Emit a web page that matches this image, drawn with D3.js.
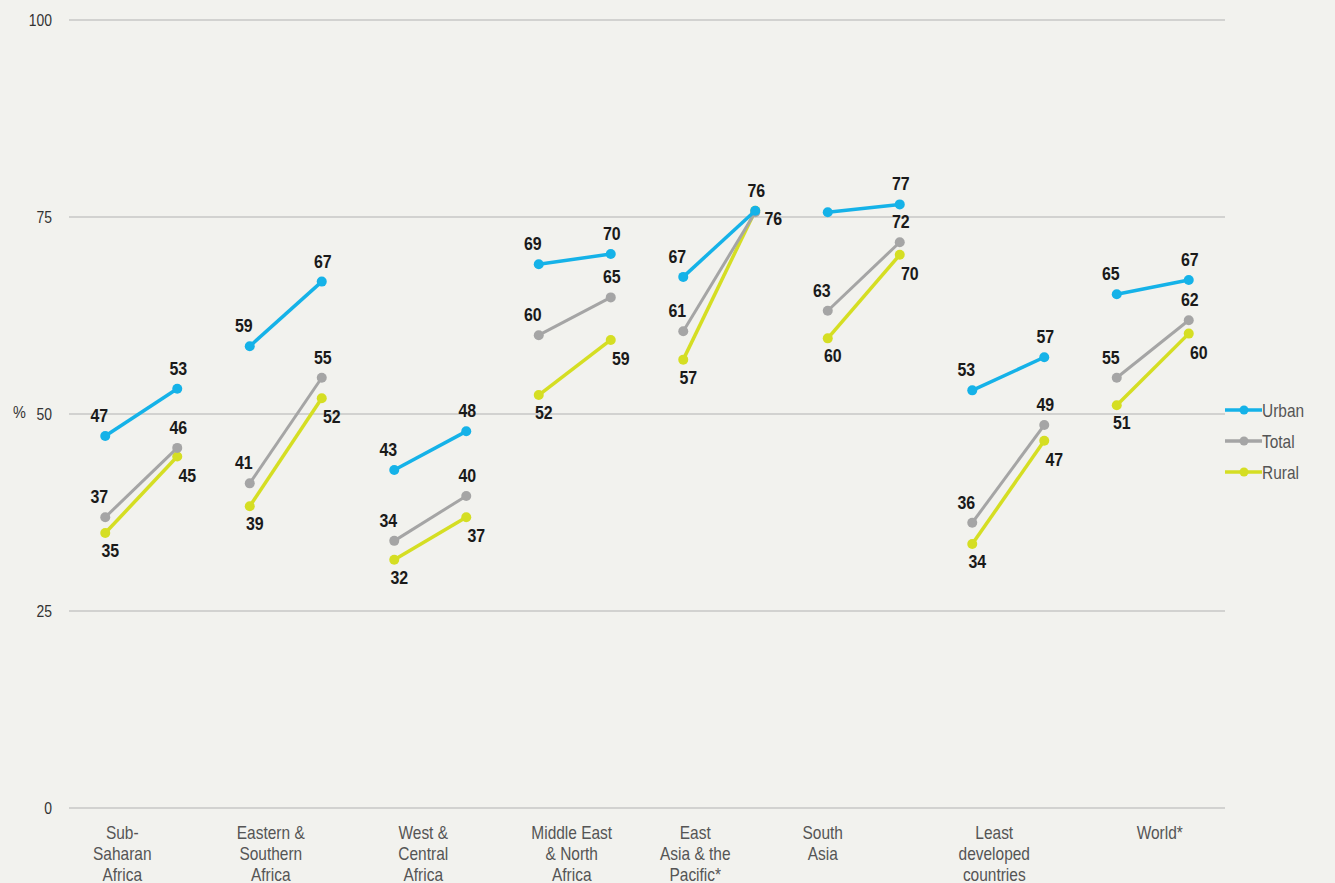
<!DOCTYPE html>
<html><head><meta charset="utf-8">
<script src="https://cdn.jsdelivr.net/npm/d3@7"></script>
<style>
body{margin:0;background:#f2f2ee;}
svg{display:block;}
text{font-family:"Liberation Sans",Arial,sans-serif;}
</style></head><body>
<svg id="c" width="1335" height="883"></svg>
<script>
const categories = [["Sub-","Saharan","Africa"],["Eastern &","Southern","Africa"],["West &","Central","Africa"],["Middle East","& North","Africa"],["East","Asia & the","Pacific*"],["South","Asia"],["Least","developed","countries"],["World*"]];
const urban = [[47.2,53.2],[58.6,66.8],[42.9,47.8],[69.0,70.3],[67.4,75.8],[75.6,76.6],[53.0,57.2],[65.2,67.0]];
const total = [[36.9,45.7],[41.2,54.6],[33.9,39.6],[60.0,64.8],[60.5,75.6],[63.1,71.8],[36.2,48.6],[54.6,61.9]];
const rural = [[34.9,44.6],[38.3,52.0],[31.5,36.9],[52.4,59.4],[56.9,75.8],[59.6,70.2],[33.5,46.6],[51.1,60.2]];
// labels shown (null = hidden)
const urbanLabels = [["47","53"],["59","67"],["43","48"],["69","70"],["67","76"],[null,"77"],["53","57"],["65","67"]];
const totalLabels = [["37","46"],["41","55"],["34","40"],["60","65"],["61",null],["63","72"],["36","49"],["55","62"]];
const ruralLabels = [["35","45"],["39","52"],["32","37"],["52","59"],["57","76"],["60","70"],["34","47"],["51","60"]];
const yTicks = [0,25,50,75,100];
const seriesNames = ["Urban","Total","Rural"];
const colors = ["#15b2e8","#a5a5a5","#d5de23"];
// layout
const catLabelDx = [-19,-15,-7,-3,-24,-41,-14,7];

const svg = d3.select("#c");
const x0 = 69, x1 = 1225;
const band = d3.scaleBand().domain(d3.range(categories.length)).range([x0,x1]);
const y = d3.scaleLinear().domain([0,100]).range([808,20]);
const half = 36;
const px = (i,j) => band(i) + band.bandwidth()/2 + (j===0?-half:half);

function ctext(parent, x, yy, sx){
  return parent.append("text").attr("transform",`translate(${x},${yy}) scale(${sx},1)`);
}

// grid
svg.append("g").selectAll("line").data(yTicks).join("line")
  .attr("x1",x0).attr("x2",x1).attr("y1",d=>y(d)).attr("y2",d=>y(d))
  .attr("stroke","#d2d2d0").attr("stroke-width",2);
yTicks.forEach(d=>{
  ctext(svg,52,y(d)+6,0.82).attr("text-anchor","end").attr("font-size",17).attr("fill","#333").text(d);
});
ctext(svg,13,418,0.85).attr("font-size",17).attr("fill","#333").text("%");

// category labels
categories.forEach((lines,i)=>{
  const t = ctext(svg, band(i)+band.bandwidth()/2 + catLabelDx[i], 839, 0.86)
    .attr("text-anchor","middle").attr("font-size",18).attr("fill","#555");
  lines.forEach((l,k)=>t.append("tspan").attr("x",0).attr("dy",k===0?0:21).text(l));
});

const data = [urban,total,rural];
const labels = [urbanLabels,totalLabels,ruralLabels];
[2,1,0].forEach(s=>{
  const g = svg.append("g");
  g.selectAll("line").data(data[s]).join("line")
    .attr("x1",(d,i)=>px(i,0)).attr("x2",(d,i)=>px(i,1))
    .attr("y1",d=>y(d[0])).attr("y2",d=>y(d[1]))
    .attr("stroke",colors[s]).attr("stroke-width",s===1?3:3.5);
  data[s].forEach((d,i)=>{
    [0,1].forEach(j=>{
      g.append("circle").attr("cx",px(i,j)).attr("cy",y(d[j])).attr("r",5).attr("fill",colors[s]);
    });
  });
});

// data labels
const lbl = svg.append("g");
[0,1,2].forEach(s=>{
  data[s].forEach((d,i)=>{
    [0,1].forEach(j=>{
      const t = labels[s][i][j];
      if(t==null) return;
      let dx, dy;
      if(s===2){ dx = j===0?5:10; dy = j===0?24:25; }
      else { dx = j===0?-6:1; dy = -14; }
      if(s===2 && i===4 && j===1){ dx = 18; dy = 14; }
      ctext(lbl, px(i,j)+dx, y(d[j])+dy, 0.84)
        .attr("text-anchor","middle").attr("font-size",19).attr("font-weight","bold").attr("fill","#1a1a1a").text(t);
    });
  });
});

// legend
seriesNames.forEach((n,k)=>{
  const yy = 410 + k*31;
  svg.append("line").attr("x1",1225).attr("x2",1262).attr("y1",yy).attr("y2",yy).attr("stroke",colors[k]).attr("stroke-width",3.5);
  svg.append("circle").attr("cx",1244).attr("cy",yy).attr("r",4.5).attr("fill",colors[k]);
  ctext(svg,1262,yy+7,0.86).attr("font-size",18).attr("fill","#555").text(n);
});
</script></body></html>
